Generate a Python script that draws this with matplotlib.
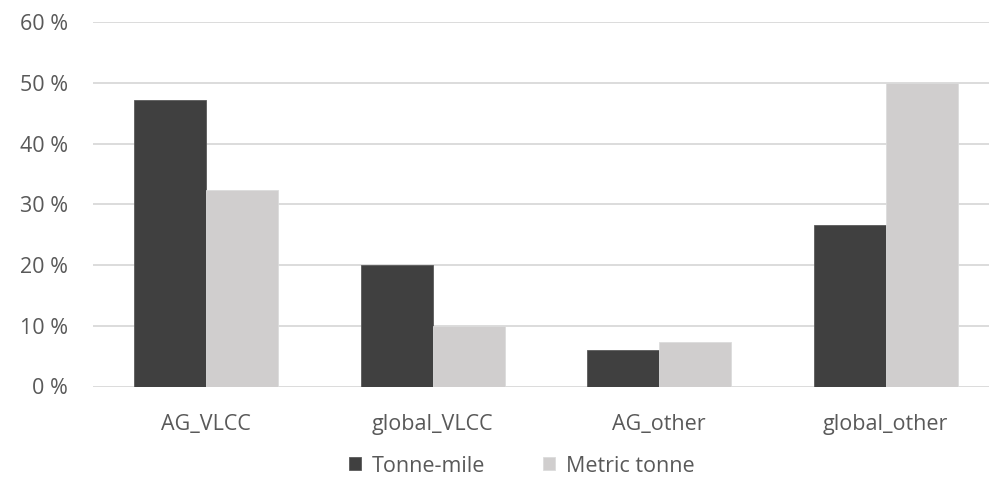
import matplotlib
matplotlib.use("Agg")
import matplotlib.pyplot as plt
import numpy as np
from matplotlib.ticker import FuncFormatter

categories = ["AG_VLCC", "global_VLCC", "AG_other", "global_other"]
tonne_mile = [47.1, 20.0, 6.0, 26.6]
metric_tonne = [32.4, 10.0, 7.4, 50.0]
series_names = ["Tonne-mile", "Metric tonne"]
y_ticks = [0, 10, 20, 30, 40, 50, 60]

plt.rcParams['font.family'] = ['Open Sans', 'DejaVu Sans']
text_color = "#595959"
fs = 15.5

fig = plt.figure(figsize=(9.89, 4.79), dpi=100)
ax = fig.add_axes([93/989, 1 - 386.5/479, 906/989, (386.5 - 22)/479])

x = np.arange(len(categories))
w = 0.318
ax.bar(x - w/2, tonne_mile, width=w, color="#404040", edgecolor="#5a5a5a", linewidth=0.6, label=series_names[0], zorder=3)
ax.bar(x + w/2, metric_tonne, width=w, color="#d0cece", edgecolor="#dcdcdc", linewidth=0.6, label=series_names[1], zorder=3)

ax.set_xlim(-0.5, len(categories) - 0.5)
ax.set_ylim(0, 60)
ax.set_yticks(y_ticks)
ax.yaxis.set_major_formatter(FuncFormatter(lambda v, p: f"{int(v)} %"))
ax.set_xticks(x)
ax.set_xticklabels(categories)
ax.grid(axis="y", color="#d9d9d9", linewidth=1.3, zorder=0)
for s in ax.spines.values():
    s.set_visible(False)
ax.tick_params(axis="both", length=0, colors=text_color, labelsize=fs)
ax.tick_params(axis="x", pad=19.5)
ax.tick_params(axis="y", pad=18)

leg = fig.legend(loc="center", bbox_to_anchor=(522/989, 1 - 466/479), ncol=2, frameon=False,
                 fontsize=fs, handlelength=0.55, handleheight=0.55, handletextpad=0.5,
                 columnspacing=2.7, labelcolor=text_color)
fig.savefig("out.png", dpi=100, facecolor="white")
